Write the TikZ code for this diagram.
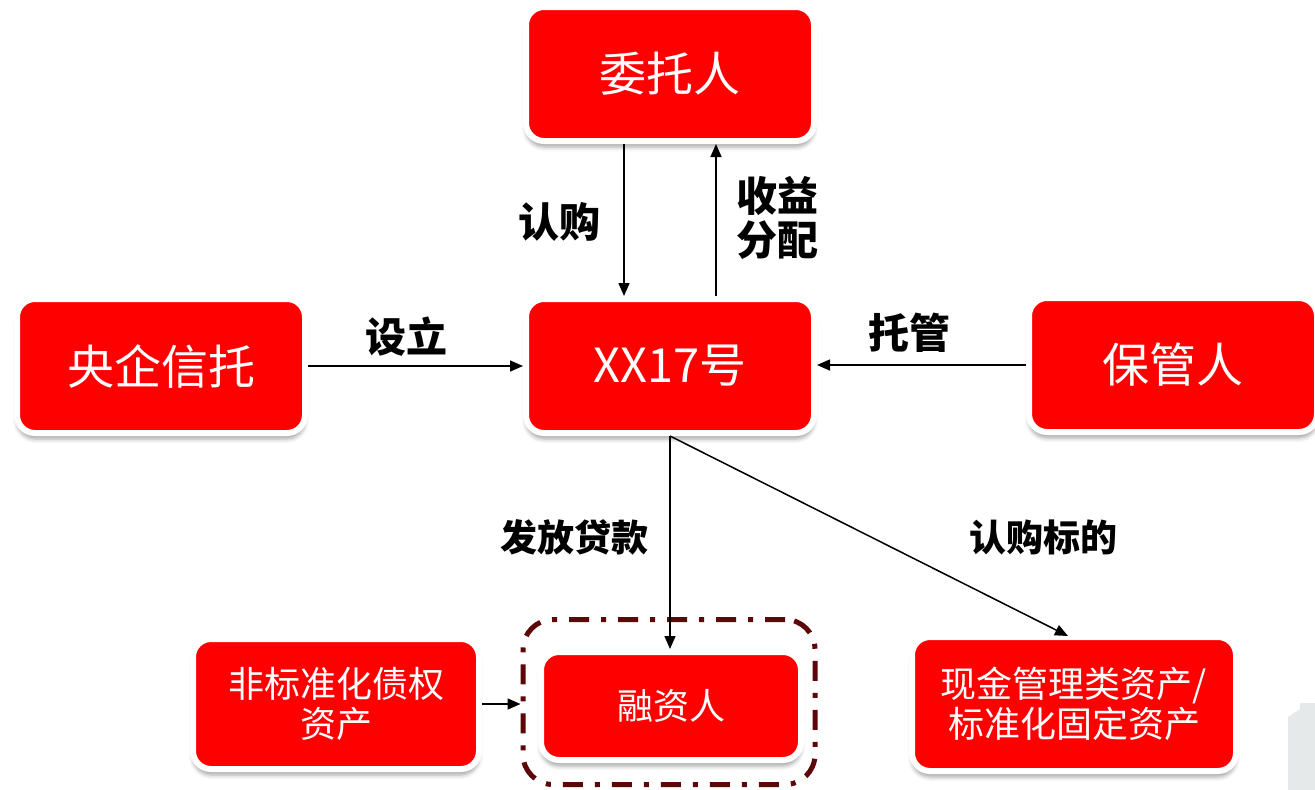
\documentclass[tikz,border=0pt]{standalone}
\usepackage{fontspec}
\setmainfont{Noto Sans CJK SC}
\usetikzlibrary{arrows.meta,shadows.blur}
\definecolor{boxred}{RGB}{255,0,0}
\definecolor{darkmaroon}{RGB}{92,8,8}
\definecolor{paleg}{RGB}{230,233,234}
\tikzset{
  redbox/.style={draw=white, line width=6pt, fill=boxred, rounded corners=18pt,
    text=white, align=center, inner sep=0pt,
    blur shadow={shadow xshift=0pt, shadow yshift=-6pt, shadow blur radius=4pt, shadow opacity=35}},
  bigtxt/.style={font=\fontsize{47}{50}\selectfont},
  smalltxt/.style={font=\fontsize{36}{40}\selectfont},
  lbl/.style={font=\bfseries\fontsize{41}{44}\selectfont, align=center, inner sep=0pt},
  lbls/.style={font=\bfseries\fontsize{37}{40}\selectfont, align=center, inner sep=0pt},
  conn/.style={-{Triangle[length=13pt,width=11pt]}, line width=1.5pt, black},
  dashframe/.style={draw=darkmaroon, line width=5pt, rounded corners=30pt,
    dash pattern=on 20pt off 12pt on 5pt off 12pt},
}
\begin{document}
\begin{tikzpicture}[x=1pt,y=-1pt]
\useasboundingbox (0,0) rectangle (1315,790);
\fill[paleg] (1288,790) -- (1288,717) -- (1300,709) -- (1300,703) -- (1315,703) -- (1315,790) -- cycle;

\node[redbox, bigtxt, minimum width=288pt, minimum height=134pt] (wt) at (670,74) {委托人};
\node[redbox, bigtxt, minimum width=288pt, minimum height=134pt] (yq) at (161,366) {央企信托};
\node[redbox, bigtxt, minimum width=288pt, minimum height=134pt] (xx) at (670,366) {XX17号};
\node[redbox, bigtxt, minimum width=288pt, minimum height=134pt] (bg) at (1173,365) {保管人};
\node[redbox, smalltxt, minimum width=286pt, minimum height=130pt] (fb) at (336,704) {非标准化债权\\资产};
\node[redbox, smalltxt, minimum width=260pt, minimum height=108pt] (rz) at (671,706) {融资人};
\node[redbox, smalltxt, minimum width=324pt, minimum height=134pt] (xj) at (1074,704) {现金管理类资产/\\标准化固定资产};
\node[dashframe, minimum width=292pt, minimum height=165pt] (db) at (669,702) {};

\node[lbl] (l1) at (559,222) {认购};
\node[lbl] (l2) at (777,218) {收益\\分配};
\node[lbl] (l3) at (406,337) {设立};
\node[lbl] (l4) at (909,333) {托管};
\node[lbls] (l5) at (574,537) {发放贷款};
\node[lbls] (l6) at (1043,537) {认购标的};

\draw[conn] ([xshift=-46pt]wt.south) -- ([xshift=-46pt]xx.north);
\draw[conn] ([xshift=46pt]xx.north) -- ([xshift=46pt]wt.south);
\draw[conn] (yq.east) -- (xx.west);
\draw[conn] (bg.west) -- (bg.west -| xx.east);
\draw[conn] (xx.south) -- (xx.south |- rz.north);
\draw[conn] (xx.south) -- ([xshift=-6pt,yshift=-2pt]xj.north);
\draw[conn] (fb.east) -- (fb.east -| db.west);
\end{tikzpicture}
\end{document}
